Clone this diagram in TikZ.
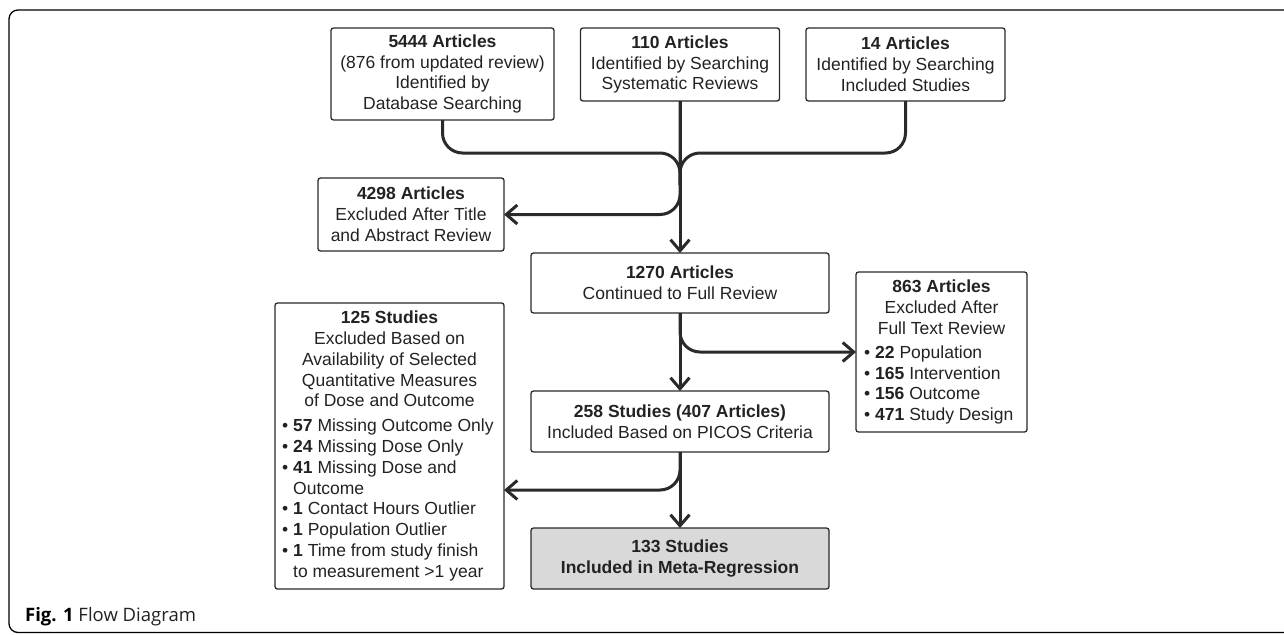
\documentclass[tikz,border=0pt]{standalone}
\usepackage{fontspec}
\setmainfont{Liberation Sans}
\newfontfamily\capfont{Open Sans}
\usetikzlibrary{arrows.meta,calc}
\definecolor{ink}{HTML}{222222}
\definecolor{linec}{HTML}{2A2A2A}
\definecolor{fillg}{HTML}{D9D9D9}
\begin{document}
\begin{tikzpicture}[x=1pt,y=-1pt,
  box/.style={draw=linec,line width=1.3pt,rounded corners=2.5pt,inner sep=0pt,outer sep=0pt},
  txt/.style={text=ink,font=\fontsize{17.5}{20.8}\selectfont,align=center,inner sep=0pt},
  conn/.style={draw=linec,line width=3pt,rounded corners=20pt},
  arr/.style={conn,-{Straight Barb[length=11pt,width=19pt]}}]
\useasboundingbox (0,0) rectangle (1284,634);
\clip (0,0) rectangle (1284,634);
% frame
\draw[line width=1.3pt,rounded corners=9pt] (1300,10) -- (9,10) -- (9,632.5) -- (1300,632.5);
% boxes
\node[box,txt,minimum width=223pt,minimum height=92pt] (A) at (442.5,74)
  {\textbf{5444 Articles}\\(876 from updated review)\\Identified by\\Database Searching};
\node[box,txt,minimum width=199pt,minimum height=73pt] (B) at (680,64.5)
  {\textbf{110 Articles}\\Identified by Searching\\Systematic Reviews};
\node[box,txt,minimum width=199pt,minimum height=73pt] (C) at (905.5,64.5)
  {\textbf{14 Articles}\\Identified by Searching\\Included Studies};
\node[box,txt,minimum width=186pt,minimum height=73pt] (D) at (411,214.5)
  {\textbf{4298 Articles}\\Excluded After Title\\and Abstract Review};
\node[box,txt,minimum width=298pt,minimum height=60pt] (E) at (680,283)
  {\textbf{1270 Articles}\\Continued to Full Review};
\node[box,txt,minimum width=298pt,minimum height=61pt] (H) at (680,421.5)
  {\textbf{258 Studies (407 Articles)}\\Included Based on PICOS Criteria};
\node[box,txt,fill=fillg,minimum width=298pt,minimum height=61pt] (I) at (680,558.5)
  {\textbf{133 Studies}\\\textbf{Included in Meta-Regression}};
\node[box,minimum width=171pt,minimum height=160pt] (F) at (941.5,352) {};
\node[txt] (Fh) at (941.5,307) {\textbf{863 Articles}\\Excluded After\\Full Text Review};
\node[txt,align=left,anchor=west] (Fl) at (864,385)
  {• \textbf{22} Population\\• \textbf{165} Intervention\\• \textbf{156} Outcome\\• \textbf{471} Study Design};
\node[box,minimum width=229pt,minimum height=286pt] (G) at (389.5,446) {};
\node[txt] (Gh) at (389.5,359)
  {\textbf{125 Studies}\\Excluded Based on\\Availability of Selected\\Quantitative Measures\\of Dose and Outcome};
\node[txt,align=left,anchor=west] (Gl) at (282,500)
  {• \textbf{57} Missing Outcome Only\\• \textbf{24} Missing Dose Only\\• \textbf{41} Missing Dose and\\\phantom{• }Outcome\\• \textbf{1} Contact Hours Outlier\\• \textbf{1} Population Outlier\\• \textbf{1} Time from study finish\\\phantom{• }to measurement >1 year};
% caption
\node[anchor=base west,inner sep=0pt,text=black,font=\capfont\fontsize{18.5}{22}\selectfont] (cap) at (25,621)
  {\textbf{Fig. 1} {\color{ink}Flow Diagram}};
% connectors
\coordinate (m1) at (680,153);
\coordinate (m2) at (680,185);
\draw[conn] (A.south) |- (m1) -- (m2);
\draw[conn] (C.south) |- (m1) -- (m2);
\draw[arr] (B.south) |- (D.east);
\draw[arr] (B.south) -- (E.north);
\draw[arr] (E.south) |- (F.west);
\draw[arr] (E.south) -- (H.north);
\draw[arr] (H.south) |- ($(G.east)+(0,44)$);
\draw[arr] (H.south) -- (I.north);
\end{tikzpicture}
\end{document}
